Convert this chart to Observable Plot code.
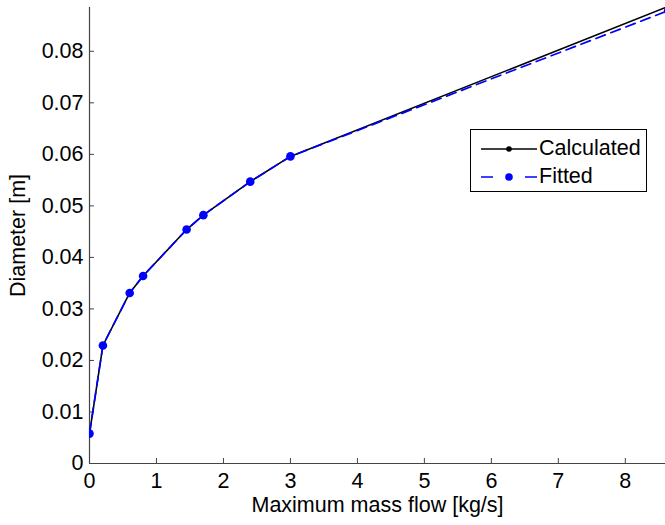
<!DOCTYPE html>
<html><head><meta charset="utf-8">
<script src="https://cdn.jsdelivr.net/npm/d3@7"></script>
<script src="https://cdn.jsdelivr.net/npm/@observablehq/plot@0.6"></script>
<style>
body{margin:0;background:#fff;}
#wrap{position:relative;width:665px;height:525px;font-family:"Liberation Sans",Arial,sans-serif;}
#legend{position:absolute;left:470px;top:129px;width:177px;height:63px;border:1px solid #000;background:#fff;font-size:21.5px;box-sizing:border-box;}
#legend svg{position:absolute;left:0;top:0;}
#legend .t{position:absolute;left:68px;line-height:1;color:#000;}
</style></head><body><div id="wrap"></div>
<script>
const massFlow   = [0, 0.2, 0.6, 0.8, 1.45, 1.7, 2.4, 3.0, 8.64];
const calculated = [0.0058, 0.0229, 0.0331, 0.0364, 0.0454, 0.0482, 0.0547, 0.0596, 0.0887];
const fitted     = [0.0058, 0.0229, 0.0331, 0.0364, 0.0454, 0.0482, 0.0547, 0.0596, 0.0879];
const xTicks = [0, 1, 2, 3, 4, 5, 6, 7, 8];
const yTicks = [0, 0.01, 0.02, 0.03, 0.04, 0.05, 0.06, 0.07, 0.08];
const seriesNames = ["Calculated", "Fitted"];
const xLabel = "Maximum mass flow [kg/s]";
const yLabel = "Diameter [m]";

const calcData = massFlow.map((m, i) => ({m, d: calculated[i]}));
const fitData = massFlow.map((m, i) => ({m, d: fitted[i]}));
const axisColor = "#444";

const chart = Plot.plot({
  width: 665, height: 525,
  marginLeft: 89, marginRight: 0, marginTop: 7, marginBottom: 62,
  style: {fontFamily: "Liberation Sans, Arial, sans-serif", fontSize: "21.5px", color: "#000", background: "#fff", overflow: "visible"},
  x: {domain: [0, 8.6]},
  y: {domain: [0, 0.0885]},
  marks: [
    Plot.axisX(xTicks, {tickSize: 5, dy: -5, fill: "none", stroke: axisColor, label: null}),
    Plot.axisX(xTicks, {tickSize: 0, tickPadding: 9, fill: "#000", label: xLabel, labelAnchor: "center", labelOffset: 48, labelArrow: "none"}),
    Plot.axisY(yTicks, {tickSize: 5, dx: 5, fill: "none", stroke: axisColor, label: null}),
    Plot.axisY(yTicks, {tickSize: 0, tickPadding: 6, fill: "#000", tickFormat: d => d === 0 ? "0" : d.toFixed(2), label: yLabel, labelAnchor: "center", labelOffset: 80, labelArrow: "none"}),
    Plot.ruleX([0], {stroke: axisColor, strokeWidth: 1.2}),
    Plot.ruleY([0], {stroke: axisColor, strokeWidth: 1.2}),
    Plot.line(calcData, {x: "m", y: "d", stroke: "#000", strokeWidth: 1.6, clip: true}),
    Plot.dot(calcData, {x: "m", y: "d", r: 2.5, fill: "#000", stroke: "none", clip: true}),
    Plot.line(fitData, {x: "m", y: "d", stroke: "#0000ff", strokeWidth: 1.7, strokeDasharray: "10,6", clip: true}),
    Plot.dot(fitData, {x: "m", y: "d", r: 4.3, fill: "#0000ff", stroke: "none", clip: true})
  ]
});
const wrap = document.getElementById("wrap");
wrap.appendChild(chart);

const legend = document.createElement("div");
legend.id = "legend";
legend.innerHTML = `<svg width="177" height="63">
  <line x1="10" x2="66" y1="19" y2="19" stroke="#000" stroke-width="1.6"/>
  <circle cx="38" cy="19" r="2.8" fill="#000"/>
  <line x1="10" x2="66" y1="47" y2="47" stroke="#0000ff" stroke-width="1.7" stroke-dasharray="12,32"/>
  <circle cx="38" cy="47" r="3.8" fill="#0000ff"/>
</svg>
<span class="t" style="top:8px">${seriesNames[0]}</span>
<span class="t" style="top:36px">${seriesNames[1]}</span>`;
wrap.appendChild(legend);
</script>
</body></html>
